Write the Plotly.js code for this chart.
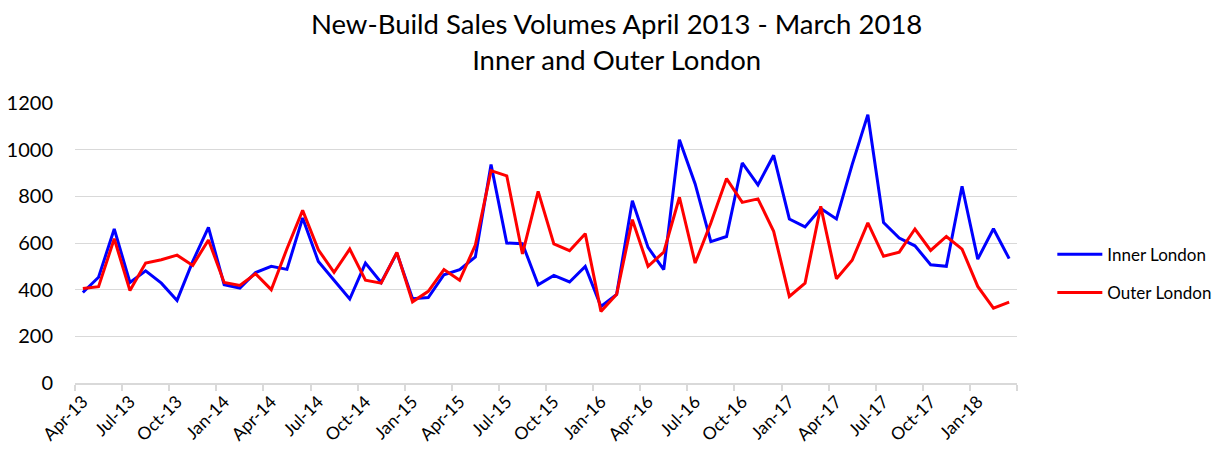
<!DOCTYPE html>
<html>
<head>
<meta charset="utf-8">
<script src="https://cdn.plot.ly/plotly-3.0.1.min.js"></script>
<style>html,body{margin:0;padding:0;background:#fff;}#chart{width:1221px;height:453px;}</style>
</head>
<body>
<div id="chart"></div>
<script>
const months = ["Apr-13","May-13","Jun-13","Jul-13","Aug-13","Sep-13","Oct-13","Nov-13","Dec-13","Jan-14","Feb-14","Mar-14",
"Apr-14","May-14","Jun-14","Jul-14","Aug-14","Sep-14","Oct-14","Nov-14","Dec-14","Jan-15","Feb-15","Mar-15",
"Apr-15","May-15","Jun-15","Jul-15","Aug-15","Sep-15","Oct-15","Nov-15","Dec-15","Jan-16","Feb-16","Mar-16",
"Apr-16","May-16","Jun-16","Jul-16","Aug-16","Sep-16","Oct-16","Nov-16","Dec-16","Jan-17","Feb-17","Mar-17",
"Apr-17","May-17","Jun-17","Jul-17","Aug-17","Sep-17","Oct-17","Nov-17","Dec-17","Jan-18","Feb-18","Mar-18"];

const innerLondon = [388,453,660,431,481,428,354,521,667,421,407,473,
500,487,707,521,440,360,514,431,557,361,366,464,
486,540,936,600,597,421,461,433,500,328,380,781,
581,486,1043,853,606,628,943,849,976,703,669,748,
703,936,1150,688,621,588,507,500,843,531,661,533];

const outerLondon = [405,413,618,396,514,528,548,504,613,431,418,468,
400,575,740,571,474,574,441,428,560,348,393,486,
440,591,910,888,553,821,596,567,640,307,380,700,
500,561,796,514,686,876,774,789,650,371,428,757,
447,526,686,543,561,660,568,628,574,414,321,347];

const tickLabels = ["Apr-13","Jul-13","Oct-13","Jan-14","Apr-14","Jul-14","Oct-14","Jan-15","Apr-15","Jul-15",
"Oct-15","Jan-16","Apr-16","Jul-16","Oct-16","Jan-17","Apr-17","Jul-17","Oct-17","Jan-18"];

const xIdx = months.map((m, i) => i);
const tickIdx = tickLabels.map(l => months.indexOf(l));

const FONT = "Lato, 'Open Sans', sans-serif";

const traces = [
  {x: xIdx, y: innerLondon, name: "Inner London", type: "scatter", mode: "lines",
   line: {color: "#0000FF", width: 3}, legendgroup: "a", hoverinfo: "y"},
  {x: xIdx, y: outerLondon, name: "Outer London", type: "scatter", mode: "lines",
   line: {color: "#FF0000", width: 3}, legendgroup: "b", hoverinfo: "y"}
];

const layout = {
  width: 1221, height: 453,
  margin: {l: 75, r: 204, t: 103, b: 70, pad: 0, autoexpand: false},
  paper_bgcolor: "#ffffff", plot_bgcolor: "#ffffff",
  font: {family: FONT, color: "#000000"},
  title: {
    text: "New-Build Sales Volumes April 2013 - March 2018<br>Inner and Outer London",
    font: {family: FONT, size: 27.5, color: "#000000"},
    x: 0.505, xanchor: "center", y: 0.924, yanchor: "top"
  },
  xaxis: {
    type: "linear", range: [-0.5, 59.5], fixedrange: true, automargin: false,
    tickmode: "array", tickvals: tickIdx, ticktext: tickLabels,
    ticks: "", tickangle: -45, tickfont: {family: FONT, size: 17.5, color: "#000000"},
    showgrid: false, zeroline: false,
    showline: true, linecolor: "#d9d9d9", linewidth: 1.5,
    minor: {tickmode: "linear", tick0: -0.5, dtick: 3, ticks: "outside", ticklen: 6, tickcolor: "#d9d9d9", tickwidth: 1.5, showgrid: false}
  },
  yaxis: {
    range: [0, 1200], tickvals: [0,200,400,600,800,1000,1200], fixedrange: true, automargin: false,
    tickfont: {family: FONT, size: 20, color: "#000000"},
    showgrid: true, gridcolor: "#d9d9d9", gridwidth: 1.3,
    zeroline: false, showline: false, ticks: "", ticklabelstandoff: 21
  },
  showlegend: true,
  legend: {
    x: 1.0375, xanchor: "left", y: 0.39, yanchor: "middle",
    font: {family: FONT, size: 17, color: "#000000"},
    traceorder: "grouped", tracegroupgap: 13, itemwidth: 45,
    bgcolor: "rgba(0,0,0,0)"
  }
};

Plotly.newPlot("chart", traces, layout, {displayModeBar: false, responsive: false});
</script>
</body>
</html>
